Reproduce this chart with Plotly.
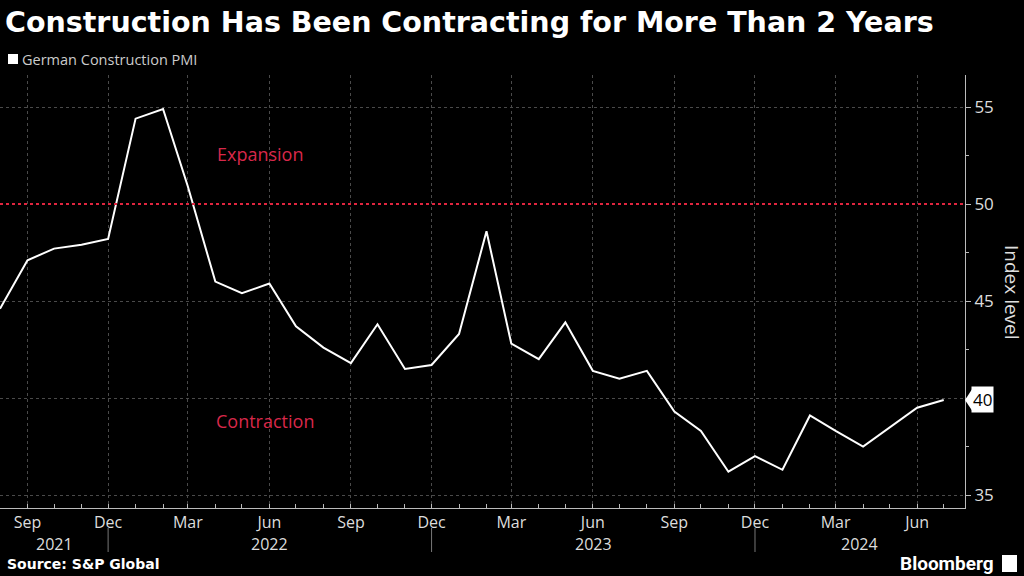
import plotly.graph_objects as go
import pandas as pd

months = ["2021-08", "2021-09", "2021-10", "2021-11", "2021-12",
          "2022-01", "2022-02", "2022-03", "2022-04", "2022-05", "2022-06",
          "2022-07", "2022-08", "2022-09", "2022-10", "2022-11", "2022-12",
          "2023-01", "2023-02", "2023-03", "2023-04", "2023-05", "2023-06",
          "2023-07", "2023-08", "2023-09", "2023-10", "2023-11", "2023-12",
          "2024-01", "2024-02", "2024-03", "2024-04", "2024-05", "2024-06",
          "2024-07"]
pmi = [44.6, 47.1, 47.7, 47.9, 48.2,
       54.4, 54.9, 50.9, 46.0, 45.4, 45.9,
       43.7, 42.6, 41.8, 43.8, 41.5, 41.7,
       43.3, 48.6, 42.8, 42.0, 43.9, 41.4,
       41.0, 41.4, 39.3, 38.3, 36.2, 37.0,
       36.3, 39.1, 38.3, 37.5, 38.5, 39.5,
       39.9]
y_ticks = [35, 40, 45, 50, 55]
threshold = 50
years = ["2021", "2022", "2023", "2024"]
year_breaks = ["2021-12-01", "2022-12-01", "2023-12-01"]

x_start = "2021-08-01"
x_end = "2024-07-25"

dates = pd.to_datetime([m + "-01" for m in months])

W, H = 1024, 576
ML, MR, MT, MB = 0, 59, 75, 68
PW = W - ML - MR
PH = H - MT - MB

def px_x(p):
    return (p - ML) / PW

def px_y(p):
    return (H - MB - p) / PH

fig = go.Figure()
fig.add_trace(go.Scatter(
    x=dates, y=pmi, mode="lines",
    line=dict(color="#ffffff", width=2),
    name="German Construction PMI",
    showlegend=False,
))

grid_col = "#4a4a4a"
fig.update_layout(
    width=W, height=H,
    margin=dict(l=ML, r=MR, t=MT, b=MB),
    paper_bgcolor="#000000",
    plot_bgcolor="#000000",
    font=dict(family="Open Sans", color="#dddddd"),
    title=dict(
        text="<b>Construction Has Been Contracting for More Than 2 Years</b>",
        x=5 / W, xanchor="left", xref="container",
        y=1 - 22 / H, yanchor="middle", yref="container",
        font=dict(family="DejaVu Sans", size=28.5, color="#ffffff"),
    ),
    xaxis=dict(
        type="date",
        range=[x_start, x_end],
        tick0="2021-09-01", dtick="M3",
        tickformat="%b", ticklabelmode="instant",
        ticks="inside", ticklen=4, tickcolor="#bbbbbb",
        tickfont=dict(size=16, color="#dddddd"),
        showgrid=True, gridcolor=grid_col, griddash="dot", gridwidth=1,
        minor=dict(dtick="M1", tick0="2021-08-01", ticks="inside",
                   ticklen=4, tickcolor="#bbbbbb", showgrid=False),
        showline=True, linecolor="#bbbbbb", linewidth=1,
        zeroline=False,
    ),
    yaxis=dict(
        side="right",
        range=[34.33, 56.65],
        tickvals=y_ticks,
        ticktext=[str(v) if v != 40 else "" for v in y_ticks],
        ticks="outside", ticklen=5, tickcolor="#bbbbbb",
        tickfont=dict(size=17, color="#dddddd"),
        showgrid=True, gridcolor=grid_col, griddash="dot", gridwidth=1,
        minor=dict(dtick=2.5, ticks="outside", ticklen=3,
                   tickcolor="#bbbbbb", showgrid=False),
        showline=True, linecolor="#bbbbbb", linewidth=1,
        zeroline=False,
    ),
)

# y-axis title
fig.add_annotation(x=px_x(1012), y=px_y(292), xref="paper", yref="paper",
                   text="Index level", textangle=90, showarrow=False,
                   xanchor="center", yanchor="middle",
                   font=dict(size=19, color="#dddddd"))

# threshold line
fig.add_shape(type="line", xref="paper", yref="y",
              x0=0, x1=1, y0=threshold, y1=threshold,
              line=dict(color="#e0253f", width=2, dash="dot"))

# region labels
red = "#d8284a"
fig.add_annotation(x=px_x(215), y=52.6, xref="paper", yref="y",
                   text="Expansion", showarrow=False, xanchor="left",
                   font=dict(size=18, color=red))
fig.add_annotation(x=px_x(214), y=38.8, xref="paper", yref="y",
                   text="Contraction", showarrow=False, xanchor="left",
                   font=dict(size=18, color=red))

# legend
fig.add_shape(type="rect", xref="paper", yref="paper",
              x0=px_x(8), x1=px_x(18), y0=px_y(64), y1=px_y(54),
              fillcolor="#ffffff", line=dict(width=0))
fig.add_annotation(x=px_x(20), y=px_y(59), xref="paper", yref="paper",
                   text="German Construction PMI", showarrow=False,
                   xanchor="left", yanchor="middle",
                   font=dict(size=14.5, color="#cccccc"))

# last value tag
last = pmi[-1]
fig.add_annotation(x=1, y=last, xref="paper", yref="y",
                   text=f"{last:.0f}", showarrow=False,
                   xanchor="left", yanchor="middle", xshift=6,
                   bgcolor="#ffffff", borderpad=1,
                   font=dict(size=17, color="#000000"))
fig.add_shape(type="path", xref="paper", yref="y",
              path=f"M 1 {last} L {px_x(972)} {last + 0.55} L {px_x(972)} {last - 0.55} Z",
              fillcolor="#ffffff", line=dict(width=0))

# year labels and separators
bounds = [pd.Timestamp(x_start)] + [pd.Timestamp(b) for b in year_breaks] + [pd.Timestamp(x_end)]
for i, yr in enumerate(years):
    mid = bounds[i] + (bounds[i + 1] - bounds[i]) / 2
    fig.add_annotation(x=mid, y=px_y(544), xref="x", yref="paper",
                       text=yr, showarrow=False, yanchor="middle",
                       font=dict(size=16, color="#dddddd"))
for b in year_breaks:
    fig.add_shape(type="line", xref="x", yref="paper",
                  x0=b, x1=b, y0=px_y(528), y1=px_y(552),
                  line=dict(color="#777777", width=1))

# footer
fig.add_annotation(x=px_x(5), y=px_y(564), xref="paper", yref="paper",
                   text="<b>Source: S&P Global</b>", showarrow=False,
                   xanchor="left", yanchor="middle",
                   font=dict(family="DejaVu Sans", size=14, color="#ffffff"))
fig.add_annotation(x=px_x(996), y=px_y(563), xref="paper", yref="paper",
                   text="<b>Bloomberg</b>", showarrow=False,
                   xanchor="right", yanchor="middle",
                   font=dict(family="Roboto", size=19, color="#ffffff"))
fig.add_shape(type="rect", xref="paper", yref="paper",
              x0=px_x(1002), x1=px_x(1017), y0=px_y(572), y1=px_y(555),
              fillcolor="#ffffff", line=dict(width=0))

fig.write_html("out.html", config={"displayModeBar": False},
               post_script="document.body.style.margin='0';")
